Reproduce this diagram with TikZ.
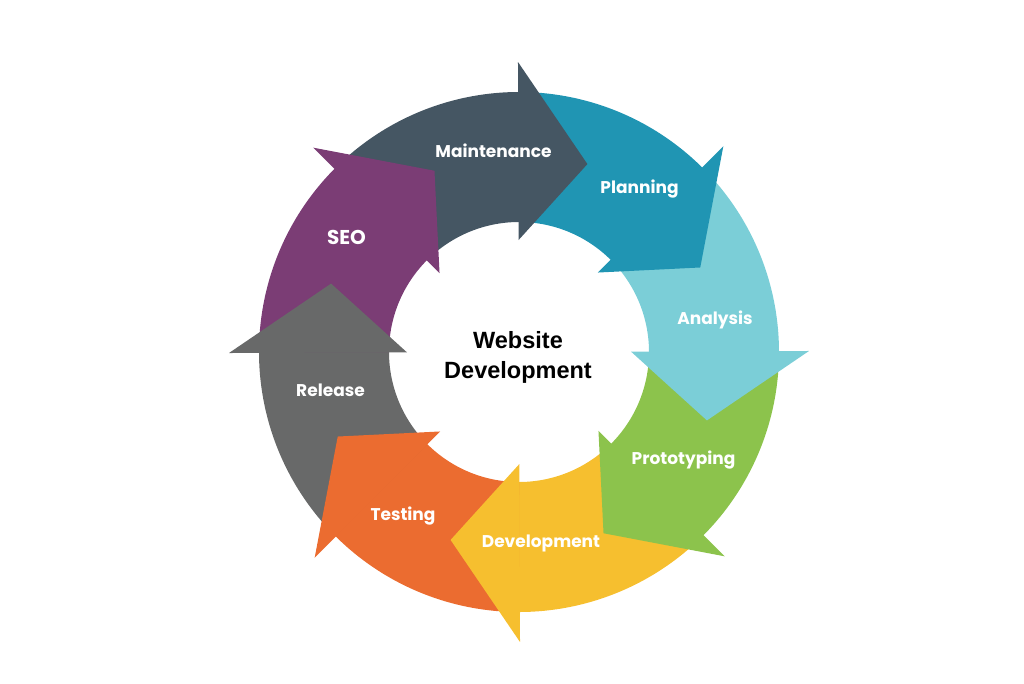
\documentclass[tikz,border=0pt]{standalone}
\usepackage{fontspec}
\setmainfont{Liberation Sans}
\newfontfamily\stepfont{Poppins}
\definecolor{maint}{HTML}{455663}
\definecolor{plan}{HTML}{2095B3}
\definecolor{anal}{HTML}{7BCED7}
\definecolor{proto}{HTML}{8CC34C}
\definecolor{devel}{HTML}{F6BF2F}
\definecolor{test}{HTML}{EB6C30}
\definecolor{rel}{HTML}{686969}
\definecolor{seo}{HTML}{7B3D75}

\begin{document}
\begin{tikzpicture}[x=1pt,y=1pt,
  steplabel/.style={text=white,anchor=base,font=\stepfont\bfseries\fontsize{17}{20}\selectfont}]
  \useasboundingbox (-519,-331) rectangle (505,352); %枠
  \foreach \a/\c in {90/maint,45/plan,0/anal,-45/proto,-90/devel,-135/test,-180/rel,-225/seo}
    \fill[\c] (\a+45:260) arc[start angle=\a+45,end angle=\a-1,radius=260]--(\a-1:130) arc[start angle=\a-1,end angle=\a+45,radius=130]--cycle; %環
  \foreach \a/\c in {90/maint,45/plan,0/anal,-45/proto,-90/devel,-135/test,-180/rel,-225/seo}
    \fill[\c] (\a+0.2:290)--(\a-20:200)--(\a+0.2:112)--cycle; %矢印の先
  \node[steplabel] (maintenance) at (-25.5,194) {Maintenance};
  \node[steplabel] (planning) at (120.5,159) {Planning};
  \node[steplabel] (analysis) at (196,28) {Analysis};
  \node[steplabel] (prototyping) at (164.5,-112) {Prototyping};
  \node[steplabel] (development) at (22,-195) {Development};
  \node[steplabel] (testing) at (-116,-168) {Testing};
  \node[steplabel] (release) at (-188.5,-44) {Release};
  \node[steplabel,font=\stepfont\bfseries\fontsize{20}{24}\selectfont] (seo) at (-172.5,108) {SEO};
  \node[align=center,font=\bfseries\fontsize{23.5}{30}\selectfont] (title) at (-1,-5) {Website\\Development}; %中央
\end{tikzpicture}
\end{document}
